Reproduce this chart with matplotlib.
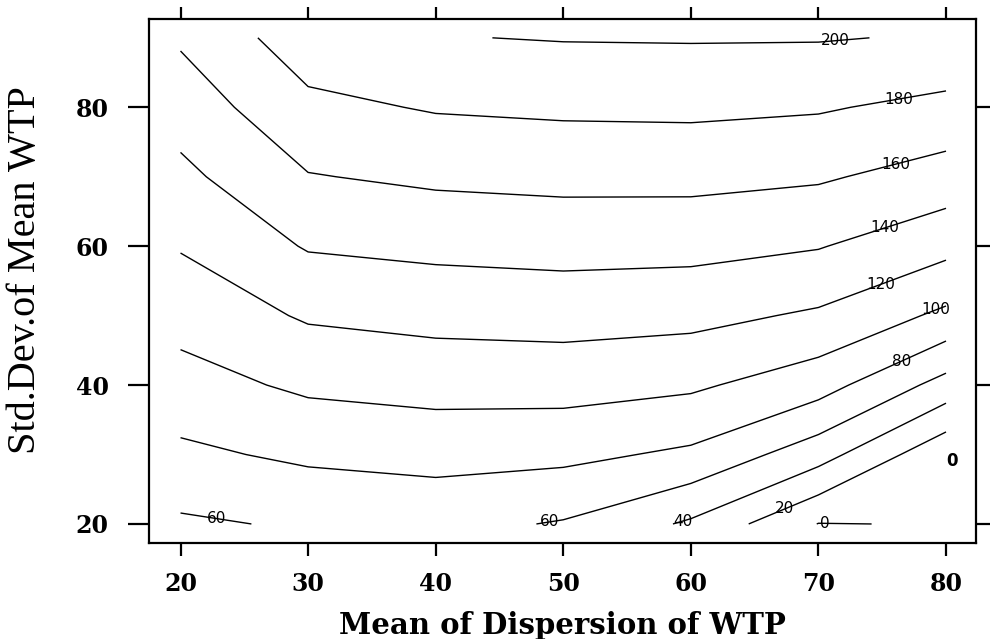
import numpy as np
import matplotlib
matplotlib.use("Agg")
import matplotlib.pyplot as plt

# ---- data ----
x_vals = [20, 30, 40, 50, 60, 70, 80]          # Mean of Dispersion of WTP
y_vals = [20, 30, 40, 50, 60, 70, 80, 90]      # Std.Dev. of Mean WTP

z_y20 = [57.0, 62.4, 66.0, 58.4, 37.0, -0.5, 0.7]
z_y30 = [76.0, 83.8, 86.9, 84.9, 76.4, 48.5, 4.3]
z_y40 = [92.5, 103.6, 107.1, 107.6, 103.3, 88.5, 52.6]
z_y50 = [107.2, 122.3, 126.2, 127.8, 125.7, 117.2, 95.8]
z_y60 = [121.4, 141.6, 145.0, 146.8, 146.0, 141.1, 126.1]
z_y70 = [135.2, 159.0, 163.6, 165.5, 165.7, 162.4, 151.6]
z_y80 = [148.9, 175.2, 181.6, 183.5, 184.1, 181.9, 174.4]
z_y90 = [162.6, 191.3, 199.2, 201.0, 201.4, 201.2, 198.2]

levels = [0, 20, 40, 60, 80, 100, 120, 140, 160, 180, 200]
x_ticks = [20, 30, 40, 50, 60, 70, 80]
y_ticks = [20, 40, 60, 80]

# approximate places where the reference writes its contour labels
label_places = [(71.3, 89.6), (76.3, 80.9), (76.1, 71.4), (75.3, 62.0),
                (75.0, 54.1), (79.3, 50.5), (76.7, 42.6), (22.8, 20.4),
                (49.0, 19.8), (59.4, 20.2), (67.5, 21.6), (70.5, 20.0)]

# ---- figure ----
fig = plt.figure(figsize=(9.9, 6.39), dpi=100)
ax = fig.add_axes([149 / 990, (639 - 543) / 639, (976 - 149) / 990, (543 - 19) / 639])

X, Y = np.meshgrid(x_vals, y_vals)
Z = np.array([z_y20, z_y30, z_y40, z_y50, z_y60, z_y70, z_y80, z_y90])

cs = ax.contour(X, Y, Z, levels=levels, colors="black", linewidths=1.0)
texts = ax.clabel(cs, levels=levels, inline=False, fmt="%d", fontsize=11,
                  manual=label_places)
for t in texts:
    t.set_rotation(0)
    t.set_fontfamily("DejaVu Sans")
ax.text(80.5, 29, "0", fontsize=12, fontweight="bold", family="DejaVu Sans",
        ha="center", va="center")

ax.set_xlim(17.53, 82.35)
ax.set_ylim(17.26, 92.71)
ax.set_xticks(x_ticks)
ax.set_yticks(y_ticks)
ax.tick_params(axis="x", direction="out", length=9, width=1.6, top=True,
               bottom=True, pad=12, labelsize=17)
ax.tick_params(axis="y", direction="out", length=15, width=1.6, left=True,
               right=True, pad=14, labelsize=17)
for lbl in ax.get_xticklabels() + ax.get_yticklabels():
    lbl.set_fontfamily("DejaVu Serif")
    lbl.set_fontweight("bold")
for s in ax.spines.values():
    s.set_linewidth(1.6)

ax.set_xlabel("Mean of Dispersion of WTP", fontfamily="DejaVu Serif",
              fontweight="bold", fontsize=21, labelpad=11)
ax.set_ylabel("Std.Dev.of Mean WTP", fontfamily="Liberation Serif",
              fontsize=29, labelpad=23)
ax.yaxis.label.set_y(0.52)

fig.savefig("out.png", dpi=100)
